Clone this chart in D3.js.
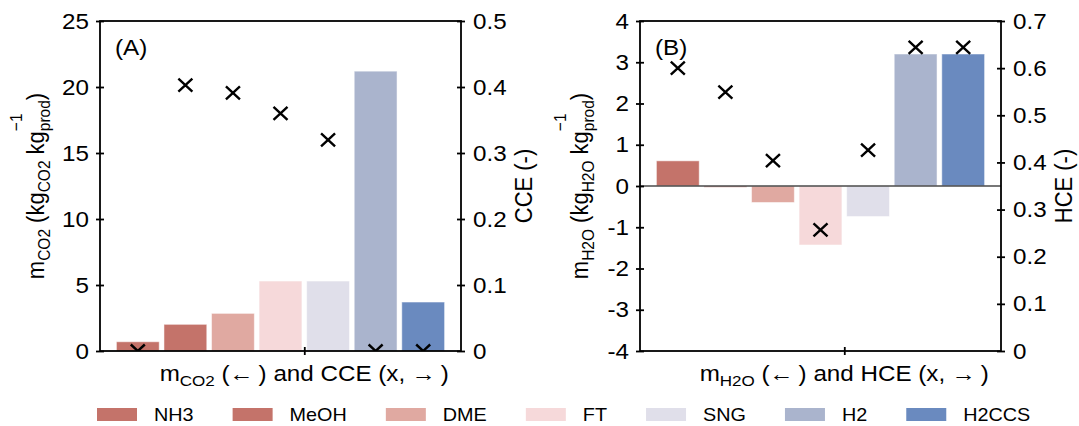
<!DOCTYPE html>
<html>
<head>
<meta charset="utf-8">
<script src="https://cdn.jsdelivr.net/npm/d3@7"></script>
<style>
  body { margin: 0; background: #fff; }
  text { font-family: "Liberation Sans", Arial, sans-serif; fill: #000; }
</style>
</head>
<body>
<div id="chart_area"></div>
<script>
// ---------------- DATA ----------------
var fuels = ["NH3", "MeOH", "DME", "FT", "SNG", "H2", "H2CCS"];
var fuelColors = ["#c4736a", "#c4736a", "#e0a9a1", "#f6d9da", "#e0dfea", "#aab4cd", "#6a8abf"];

// panel A : CO2 demand (left axis) and carbon conversion efficiency (right axis)
var mCO2 = [0.70, 2.02, 2.85, 5.30, 5.30, 21.2, 3.71];
var cce  = [0, 0.403, 0.391, 0.360, 0.320, 0, 0];

// panel B : H2O demand (left axis) and hydrogen conversion efficiency (right axis)
var mH2O = [0.61, -0.03, -0.40, -1.43, -0.74, 3.20, 3.20];
var hce  = [0.600, 0.549, 0.404, 0.257, 0.426, 0.644, 0.644];

var leftTicksA  = [0, 5, 10, 15, 20, 25];
var rightTicksA = [0, 0.1, 0.2, 0.3, 0.4, 0.5];
var leftTicksB  = [-4, -3, -2, -1, 0, 1, 2, 3, 4];
var rightTicksB = [0, 0.1, 0.2, 0.3, 0.4, 0.5, 0.6, 0.7];

// ---------------- LAYOUT ----------------
var frame_width = 1079, frame_height = 426;
var plot_w = 361, plot_h = 330, plot_top = 21;
var fs = 22, subFs = 15.5;
var k = 1.1; // the type in the original is a bit wider than Arial

var svg = d3.select("#chart_area").append("svg")
  .attr("width", frame_width)
  .attr("height", frame_height);

// widen text horizontally, keeping its anchor point in place
function stretch(sel) {
  sel.each(function() {
    var t = d3.select(this);
    var x = +t.attr("x") || 0;
    t.attr("x", x / k);
    t.attr("transform", (t.attr("transform") || "") + " scale(" + k + ",1)");
  });
}

// write text made of parts: {t, sub, sup, back}
function richText(sel, parts) {
  parts.forEach(function(p) {
    var ts = sel.append("tspan").text(p.t);
    if (p.sub) ts.attr("font-size", subFs).attr("dy", 5);
    else if (p.sup) ts.attr("font-size", subFs);
    else if (p.back) ts.attr("dy", p.back);
    p.node = ts;
  });
  return sel;
}

function panel(opt) {
  var g = svg.append("g").attr("transform", "translate(" + opt.left + "," + plot_top + ")");

  var x = d3.scaleLinear().domain([-0.795, 6.795]).range([0, plot_w]);
  var y = d3.scaleLinear().domain(opt.yDomain).range([plot_h, 0]);
  var y2 = d3.scaleLinear().domain(opt.y2Domain).range([plot_h, 0]);
  var barW = 0.9;

  var clipId = "clip" + opt.name;
  g.append("clipPath").attr("id", clipId)
    .append("rect").attr("width", plot_w).attr("height", plot_h);

  // bars
  g.selectAll(".bar").data(opt.bars).enter().append("rect")
    .attr("class", "bar")
    .attr("x", function(d, i) { return x(i - barW / 2); })
    .attr("width", x(barW) - x(0))
    .attr("y", function(d) { return y(Math.max(0, d)); })
    .attr("height", function(d) { return Math.abs(y(d) - y(0)); })
    .attr("fill", function(d, i) { return fuelColors[i]; })
    .attr("stroke", "#fff").attr("stroke-opacity", 0.5).attr("stroke-width", 1);

  if (opt.zeroLine) {
    g.append("line")
      .attr("x1", 0).attr("x2", plot_w)
      .attr("y1", y(0)).attr("y2", y(0))
      .attr("stroke", "#4a4a4a").attr("stroke-width", 1.3);
  }

  // x markers on the right axis
  g.append("g").attr("clip-path", "url(#" + clipId + ")")
    .selectAll(".mk").data(opt.marks).enter().append("path")
    .attr("class", "mk")
    .attr("transform", function(d, i) { return "translate(" + x(i) + "," + y2(d) + ")"; })
    .attr("d", "M-7,-6.5L7,6.5M-7,6.5L7,-6.5")
    .attr("stroke", "#000").attr("stroke-width", 2.4).attr("fill", "none");

  // axes
  var fmt = function(d) { return String(d); };
  var ax = g.append("g").call(d3.axisLeft(y).tickValues(opt.leftTicks).tickFormat(fmt).tickSize(4).tickPadding(7));
  ax.selectAll(".tick line").attr("x1", 4);
  var ax2 = g.append("g").attr("transform", "translate(" + plot_w + ",0)")
    .call(d3.axisRight(y2).tickValues(opt.rightTicks).tickFormat(fmt).tickSize(4).tickPadding(8));
  ax2.selectAll(".tick line").attr("x1", -4);
  var midTick = 3.5;
  var axb = g.append("g").attr("transform", "translate(0," + plot_h + ")")
    .call(d3.axisBottom(x).tickValues([midTick]).tickFormat("").tickSize(4));
  axb.selectAll(".tick line").attr("y1", -4);

  [ax, ax2, axb].forEach(function(a) {
    a.select(".domain").remove();
    a.selectAll(".tick line").attr("stroke", "#000").attr("stroke-width", 1.8);
    a.selectAll("text").attr("font-size", fs).attr("font-family", null).attr("fill", "#000");
    stretch(a.selectAll("text"));
  });

  // frame
  g.append("rect").attr("width", plot_w).attr("height", plot_h)
    .attr("fill", "none").attr("stroke", "#000").attr("stroke-width", 1.8);

  // panel letter
  stretch(g.append("text").attr("x", 15).attr("y", 34).attr("font-size", fs).text(opt.letter));

  // x label sits at the single tick
  var xl = richText(g.append("text")
      .attr("x", x(midTick)).attr("y", plot_h + 30)
      .attr("text-anchor", "middle").attr("font-size", fs),
    [{t: "m"}, {t: opt.sp, sub: true}, {t: " (\u2190\u2009) and " + opt.eff + " (x, \u2192\u2009)", back: -5}]);
  stretch(xl);

  // left y label with stacked sub/superscript
  var yl = g.append("text")
    .attr("transform", "translate(" + opt.ylx + "," + (plot_h / 2) + ") rotate(-90) scale(1," + k + ")")
    .attr("text-anchor", "middle").attr("font-size", fs);
  var parts = [{t: "m"}, {t: opt.sp, sub: true}, {t: " (kg", back: -5}, {t: opt.sp, sub: true},
               {t: " kg", back: -5}, {t: "prod", sub: true}, {t: "\u22121", sup: true}, {t: ")"}];
  richText(yl, parts);
  var wProd = parts[5].node.node().getComputedTextLength();
  var wSup = parts[6].node.node().getComputedTextLength();
  parts[6].node.attr("dx", -wProd).attr("dy", -25);
  parts[7].node.attr("dx", wProd - wSup).attr("dy", 20);

  // right y label
  g.append("text")
    .attr("transform", "translate(" + opt.y2lx + "," + (plot_h / 2) + ") rotate(-90) scale(1," + k + ")")
    .attr("text-anchor", "middle").attr("dy", "0.35em").attr("font-size", fs)
    .text(opt.eff + " (-)");
}

panel({name: "A", left: 100, letter: "(A)", sp: "CO2", eff: "CCE",
       yDomain: [0, 25], y2Domain: [0, 0.5], leftTicks: leftTicksA, rightTicks: rightTicksA,
       bars: mCO2, marks: cce, zeroLine: false, ylx: -56, y2lx: 424});
panel({name: "B", left: 640, letter: "(B)", sp: "H2O", eff: "HCE",
       yDomain: [-4, 4], y2Domain: [0, 0.7], leftTicks: leftTicksB, rightTicks: rightTicksB,
       bars: mH2O, marks: hce, zeroLine: true, ylx: -52, y2lx: 424});

// ---------------- LEGEND ----------------
var legend = svg.append("g").attr("class", "legend");
var lx = 97;
fuels.forEach(function(f, i) {
  legend.append("rect").attr("x", lx).attr("y", 408).attr("width", 40).attr("height", 13)
    .attr("fill", fuelColors[i]);
  var t = legend.append("text").attr("x", lx + 57).attr("y", 421).attr("font-size", 18).text(f);
  var w = t.node().getComputedTextLength() * k;
  stretch(t);
  lx += 57 + w + 39;
});
</script>
</body>
</html>
